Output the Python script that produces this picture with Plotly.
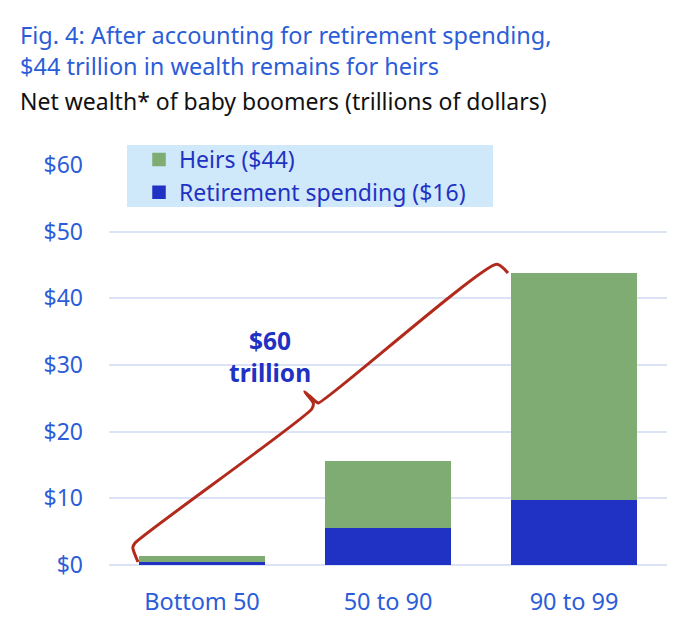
import plotly.graph_objects as go

# data (trillions of dollars)
groups = ["Bottom 50", "50 to 90", "90 to 99"]
retirement = [0.6, 5.6, 9.8]
heirs = [0.6, 9.9, 33.9]
y_ticks = [0, 10, 20, 30, 40, 50, 60]
y_tick_labels = ["$0", "$10", "$20", "$30", "$40", "$50", "$60"]

# curly brace spanning the bars, in axis units (x = bar index, y = trillions)
brace_x = [-0.344, -0.372, -0.36, 0.59, 0.598, 0.552, 0.613, 0.626, 1.584, 1.645]
brace_y = [0.45, 2.6, 3.3, 23.4, 24.3, 26.0, 24.5, 24.3, 45.1, 43.8]

BLUE_TEXT = "#2b5dd8"
DARK_BLUE = "#1f32c4"
GREEN = "#7fac72"
RED = "#b22a1c"
FONT = "Noto Sans"


def px(x):
    # screen x -> paper fraction
    return (x - 109) / 558


def py(y):
    # screen y -> paper fraction
    return (565 - y) / 400


x_pos = list(range(len(groups)))

fig = go.Figure()

fig.add_trace(go.Bar(x=x_pos, y=retirement, name="Retirement spending ($16)",
                     marker=dict(color=DARK_BLUE, line=dict(width=1.5, color=DARK_BLUE))))
fig.add_trace(go.Bar(x=x_pos, y=heirs, name="Heirs ($44)",
                     marker=dict(color=GREEN, line=dict(width=1.5, color=GREEN))))

# the red brace
fig.add_trace(go.Scatter(x=brace_x, y=brace_y, mode="lines",
                         line=dict(color=RED, width=3, shape="spline", smoothing=0.6),
                         showlegend=False, hoverinfo="skip"))

fig.add_annotation(x=0.366, y=31.3, xref="x", yref="y",
                   text="<b>$60<br>trillion</b>", showarrow=False,
                   font=dict(family=FONT, size=24.5, color=DARK_BLUE))

# legend background box
fig.add_shape(type="rect", xref="paper", yref="paper",
              x0=px(127), x1=px(493), y0=py(207), y1=py(145),
              fillcolor="#cfe9fb", line=dict(width=0), layer="below")

# titles
fig.add_annotation(xref="paper", yref="paper", x=px(18), y=py(17),
                   xanchor="left", yanchor="top", align="left", showarrow=False,
                   text="Fig. 4: After accounting for retirement spending,<br>"
                        "$44 trillion in wealth remains for heirs",
                   font=dict(family=FONT, size=23.5, color=BLUE_TEXT))
fig.add_annotation(xref="paper", yref="paper", x=px(18), y=py(100.5),
                   xanchor="left", yanchor="middle", align="left", showarrow=False,
                   text="Net wealth* of baby boomers (trillions of dollars)",
                   font=dict(family=FONT, size=23, color="#111111"))

fig.update_layout(
    width=680, height=638,
    barmode="stack",
    bargap=0.333,
    plot_bgcolor="white",
    paper_bgcolor="white",
    margin=dict(l=101, r=21, t=157, b=81),
    font=dict(family=FONT),
    legend=dict(x=px(139), y=py(138), xanchor="left", yanchor="top",
                bgcolor="rgba(0,0,0,0)", traceorder="reversed",
                font=dict(family=FONT, size=23, color=DARK_BLUE),
                tracegroupgap=0, itemwidth=30),
)

fig.update_xaxes(
    range=[-0.5, 2.5],
    tickvals=x_pos, ticktext=groups,
    showgrid=False, zeroline=False, showline=False,
    tickfont=dict(family=FONT, size=23.5, color=BLUE_TEXT),
    ticklabelstandoff=20,
)
fig.update_yaxes(
    range=[0, 60],
    tickvals=y_ticks, ticktext=y_tick_labels,
    showgrid=True, gridcolor="#dde3f7", gridwidth=2,
    zeroline=True, zerolinecolor="#dde3f7", zerolinewidth=2,
    showline=False,
    tickfont=dict(family=FONT, size=23, color=BLUE_TEXT),
    ticklabelstandoff=25,
)

fig.write_html("out.html")
